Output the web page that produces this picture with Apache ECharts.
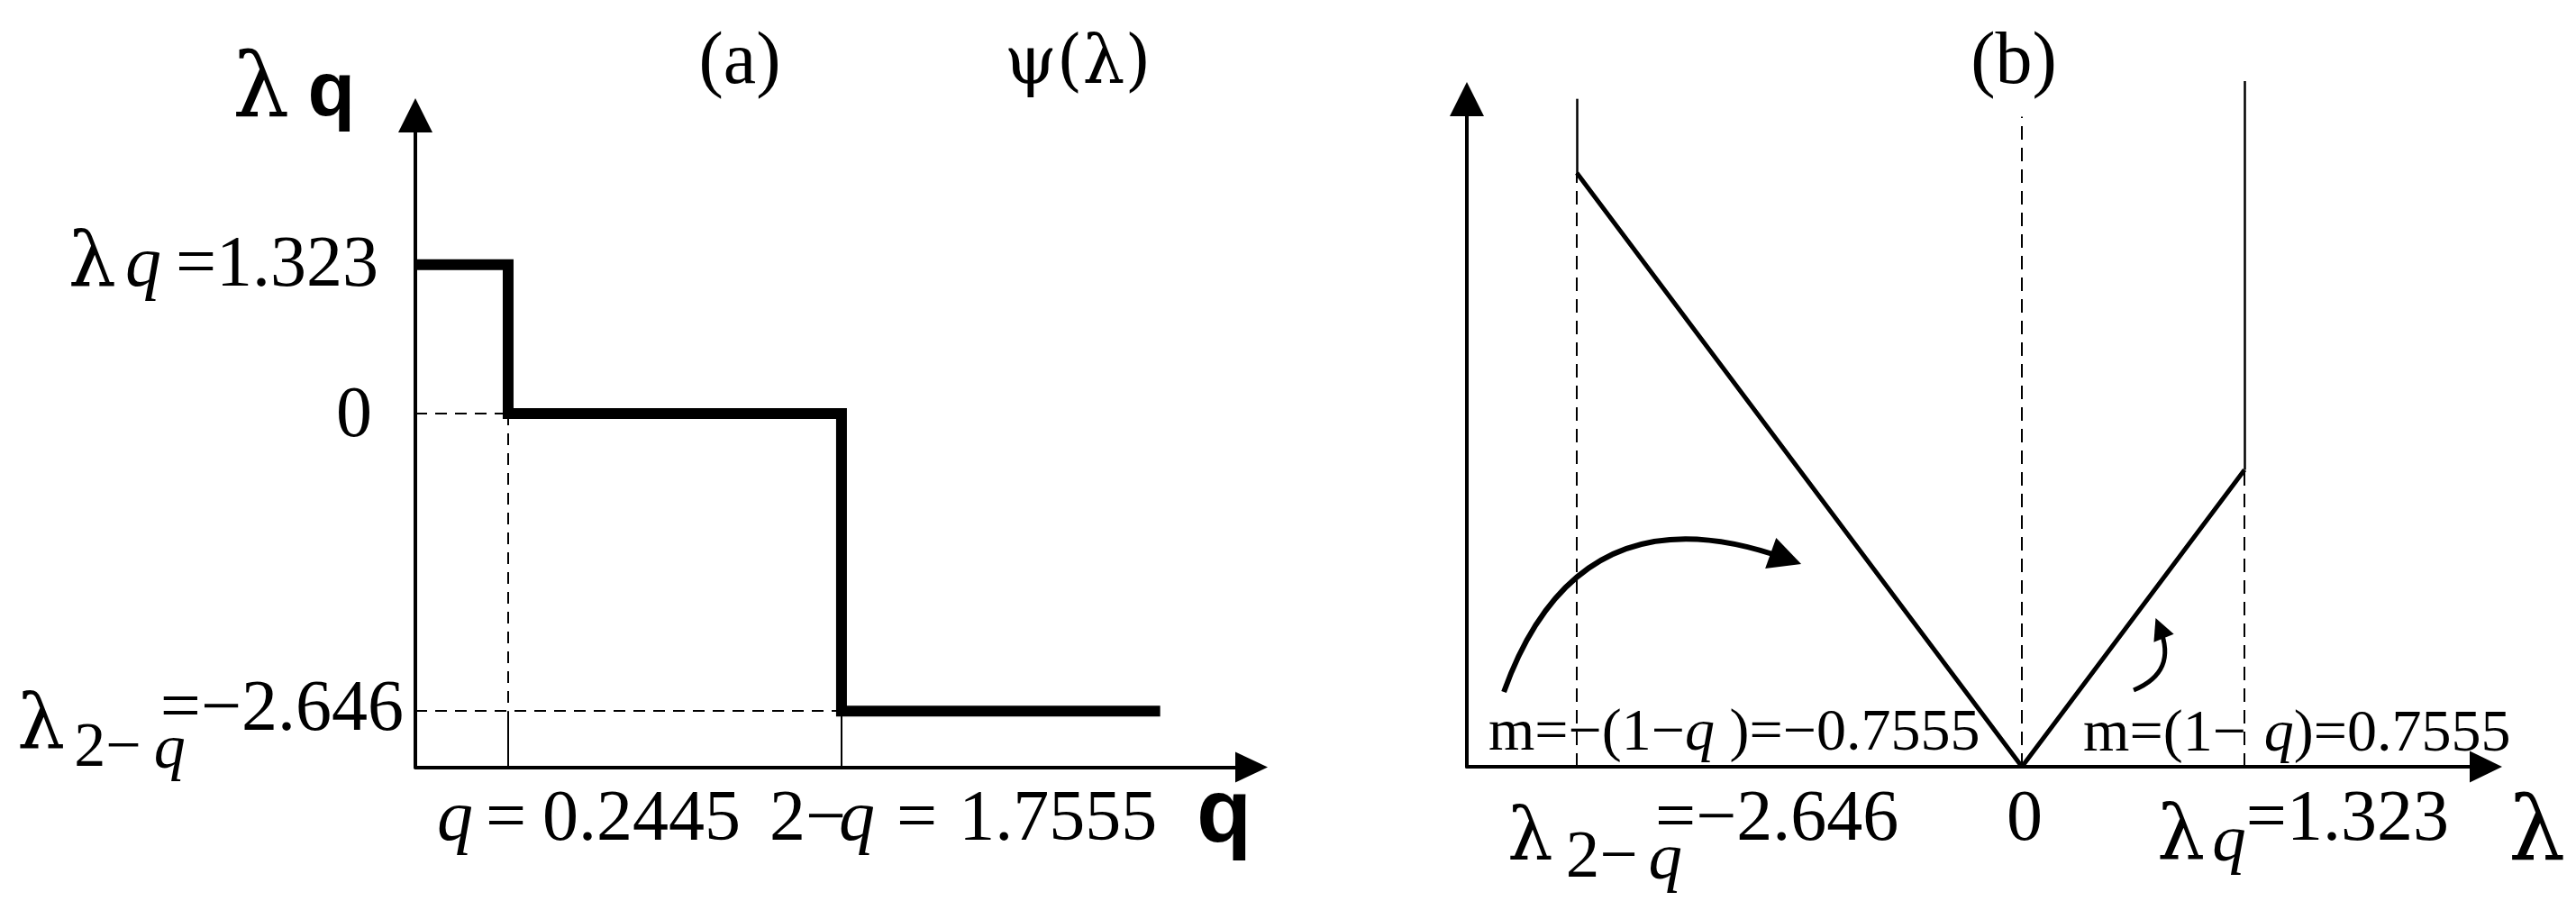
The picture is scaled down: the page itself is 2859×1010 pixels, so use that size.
<!DOCTYPE html>
<html>
<head>
<meta charset="utf-8">
<script src="https://cdn.jsdelivr.net/npm/echarts@6/dist/echarts.min.js"></script>
<style>
  html, body { margin: 0; padding: 0; background: #fff; }
  #chart { width: 2859px; height: 1010px; }
</style>
</head>
<body>
<div id="chart"></div>
<script>
// ---- panel (a): lambda as a step function of q ----
const qBreaks = [0.2445, 1.7555]
const lamLevels = [1.323, 0, -2.646]
const qEnd = 3.2
const qRange = [-0.176, 3.614]
const lamRangeA = [-3.145, 2.652]

// ---- panel (b): psi(lambda) ----
const lamPoints = [-2.646, 0, 1.323]
const psiPoints = [2.0, 0, 1.0]
const wallTops = [2.25, 2.31]
const zeroGuideTop = 2.19
const lamRangeB = [-3.30, 2.758]
const psiRangeB = [0, 2.249]
const slope = 0.7555

// curved arrows in panel (b), [start, end]
const arrowBig = [[-3.08, 0.252], [-1.403, 0.701]]
const arrowSmall = [[0.664, 0.258], [0.819, 0.467]]

const SERIF = '"Liberation Serif", "Times New Roman", serif'
const GREEK = '"DejaVu Serif", serif'
const SANS = '"Liberation Sans", Arial, sans-serif'
const fmt = v => String(v).replace('-', '\u2212')

const chart = echarts.init(document.getElementById('chart'))

function axis(gi, range, sym) {
  return {
    type: 'value', gridIndex: gi, min: range[0], max: range[1],
    axisLine: { show: true, onZero: false, symbol: ['none', 'triangle'], symbolSize: sym,
      lineStyle: { color: '#000', width: 4 } },
    axisTick: { show: false }, axisLabel: { show: false }, splitLine: { show: false }
  }
}

const yMinA = lamRangeA[0]
const stepData = [[qRange[0], lamLevels[0]], [qBreaks[0], lamLevels[1]], [qBreaks[1], lamLevels[2]], [qEnd, lamLevels[2]]]

chart.setOption({
  animation: false,
  backgroundColor: '#fff',
  grid: [
    { left: 461, top: 128, width: 928, height: 723.5, outerBoundsMode: 'none' },
    { left: 1628, top: 110, width: 1131, height: 741, outerBoundsMode: 'none' }
  ],
  xAxis: [axis(0, qRange, [34, 36]), axis(1, lamRangeB, [35, 36])],
  yAxis: [axis(0, lamRangeA, [38, 38]), axis(1, psiRangeB, [38, 38])],
  series: [
    {
      type: 'line', xAxisIndex: 0, yAxisIndex: 0, step: 'end', showSymbol: false, z: 5,
      lineStyle: { color: '#000', width: 12, join: 'miter', cap: 'butt' },
      data: stepData
    },
    {
      type: 'lines', coordinateSystem: 'cartesian2d', xAxisIndex: 0, yAxisIndex: 0, z: 3,
      lineStyle: { color: '#000', width: 2, type: [13, 9], opacity: 1 },
      data: [
        { coords: [[qRange[0], lamLevels[1]], [qBreaks[0], lamLevels[1]]] },
        { coords: [[qBreaks[0], lamLevels[1]], [qBreaks[0], lamLevels[2]]] },
        { coords: [[qRange[0], lamLevels[2]], [qBreaks[1], lamLevels[2]]] }
      ]
    },
    {
      type: 'lines', coordinateSystem: 'cartesian2d', xAxisIndex: 0, yAxisIndex: 0, z: 3,
      lineStyle: { color: '#000', width: 2, opacity: 1 },
      data: [
        { coords: [[qBreaks[0], lamLevels[2]], [qBreaks[0], yMinA]] },
        { coords: [[qBreaks[1], lamLevels[2]], [qBreaks[1], yMinA]] }
      ]
    },
    {
      type: 'line', xAxisIndex: 1, yAxisIndex: 1, showSymbol: false, z: 5,
      lineStyle: { color: '#000', width: 5 },
      data: lamPoints.map((l, i) => [l, psiPoints[i]])
    },
    {
      type: 'lines', coordinateSystem: 'cartesian2d', xAxisIndex: 1, yAxisIndex: 1, z: 3, clip: false,
      lineStyle: { color: '#000', width: 2.5, opacity: 1 },
      data: [
        { coords: [[lamPoints[0], psiPoints[0]], [lamPoints[0], wallTops[0]]] },
        { coords: [[lamPoints[2], psiPoints[2]], [lamPoints[2], wallTops[1]]] }
      ]
    },
    {
      type: 'lines', coordinateSystem: 'cartesian2d', xAxisIndex: 1, yAxisIndex: 1, z: 3,
      lineStyle: { color: '#000', width: 2, type: [15, 9], opacity: 1 },
      data: [
        { coords: [[lamPoints[0], 0], [lamPoints[0], psiPoints[0]]] },
        { coords: [[lamPoints[1], 0], [lamPoints[1], zeroGuideTop]] },
        { coords: [[lamPoints[2], 0], [lamPoints[2], psiPoints[2]]] }
      ]
    },
    {
      type: 'lines', coordinateSystem: 'cartesian2d', xAxisIndex: 1, yAxisIndex: 1, z: 6, clip: false,
      symbol: ['none', 'triangle'], symbolSize: 36,
      lineStyle: { color: '#000', width: 6, opacity: 1, curveness: 0.5 },
      data: [{ coords: arrowBig }]
    },
    {
      type: 'lines', coordinateSystem: 'cartesian2d', xAxisIndex: 1, yAxisIndex: 1, z: 6, clip: false,
      symbol: ['none', 'triangle'], symbolSize: 24,
      lineStyle: { color: '#000', width: 5, opacity: 1, curveness: -0.5 },
      data: [{ coords: arrowSmall }]
    }
  ]
})

// ---- text: laid out piece by piece so sub/superscripts sit like the figure ----
const mctx = document.createElement('canvas').getContext('2d')
function fontOf(p) {
  return (p.i ? 'italic ' : '') + (p.b ? 'bold ' : '') + p.s + 'px ' + (p.sans ? SANS : p.gr ? GREEK : SERIF)
}
function midOffset(font, t) {
  mctx.font = font
  mctx.textBaseline = 'alphabetic'
  const a1 = mctx.measureText(t).actualBoundingBoxAscent
  mctx.textBaseline = 'middle'
  const a2 = mctx.measureText(t).actualBoundingBoxAscent
  mctx.textBaseline = 'alphabetic'
  const d = a1 - a2
  return isFinite(d) ? d : 0.3 * parseFloat(font.match(/(\d+)px/)[1])
}
function textRun(pieces, x0, base, align) {
  let total = 0
  pieces.forEach(p => {
    if (p.t) { mctx.font = fontOf(p); p.w = mctx.measureText(p.t).width } else p.w = p.gap
    total += p.w
  })
  let x = align === 'right' ? x0 - total : align === 'center' ? x0 - total / 2 : x0
  const els = []
  pieces.forEach(p => {
    if (p.t) {
      const f = fontOf(p)
      els.push({
        type: 'text', x: x, y: base + (p.dy || 0) - midOffset(f, p.t), silent: true, z: 10,
        style: { text: p.t, font: f, fill: '#000', align: 'left', verticalAlign: 'middle',
          textAlign: 'left', textVerticalAlign: 'middle' }
      })
    }
    x += p.w
  })
  return els
}

const pa = v => chart.convertToPixel({ gridIndex: 0 }, v)
const pb = v => chart.convertToPixel({ gridIndex: 1 }, v)
const L = '\u03bb'
const M = '\u2212'

let g = []
// panel (a) tick labels on the lambda axis
let p = pa([qRange[0], lamLevels[0]])
g = g.concat(textRun([{ t: L, s: 84, gr: 1 }, { gap: 10 }, { t: 'q', s: 80, i: 1 }, { gap: 16 },
  { t: '=' + fmt(lamLevels[0]), s: 80 }], p[0] - 41, p[1] + 23, 'right'))
p = pa([qRange[0], lamLevels[1]])
g = g.concat(textRun([{ t: fmt(lamLevels[1]), s: 80 }], p[0] - 48, p[1] + 25, 'right'))
p = pa([qRange[0], lamLevels[2]])
g = g.concat(textRun([{ t: L, s: 84, gr: 1 }, { gap: 10 }, { t: '2' + M, s: 70, dy: 20 }, { gap: 14 },
  { t: 'q', s: 70, i: 1, dy: 22 }, { gap: -28 }, { t: '=' + fmt(lamLevels[2]), s: 80, dy: -20 }],
  p[0] - 13, p[1] + 41, 'right'))

// panel (a) tick labels on the q axis
p = pa([qBreaks[0], yMinA])
g = g.concat(textRun([{ t: 'q', s: 80, i: 1 }, { gap: 14 }, { t: '=', s: 80 }, { gap: 18 },
  { t: String(qBreaks[0]), s: 80 }], p[0] - 79, p[1] + 80.5, 'left'))
p = pa([qBreaks[1], yMinA])
g = g.concat(textRun([{ t: '2' + M, s: 80 }, { gap: -8 }, { t: 'q', s: 80, i: 1 }, { gap: 24 },
  { t: '=', s: 80 }, { gap: 24 }, { t: String(qBreaks[1]), s: 80 }], p[0] - 80, p[1] + 80.5, 'left'))

// panel (a) axis names and titles
g = g.concat(textRun([{ t: 'q', s: 100, b: 1, sans: 1 }], 1328, 934, 'left'))
g = g.concat(textRun([{ t: L, s: 100, gr: 1 }, { gap: 20 }, { t: 'q', s: 86, b: 1, sans: 1, dy: -2 }], 258, 130, 'left'))
g = g.concat(textRun([{ t: '(a)', s: 82 }], 821, 92, 'center'))
g = g.concat(textRun([{ t: '\u03c8(' + L + ')', s: 74, gr: 1 }], 1196, 92, 'center'))
g = g.concat(textRun([{ t: '(b)', s: 82 }], 2235, 92, 'center'))

// panel (b) slope labels
p = pb([lamRangeB[0], 0])
g = g.concat(textRun([{ t: 'm=' + M + '(1' + M, s: 66 }, { t: 'q', s: 66, i: 1 },
  { t: ' )=' + fmt(-slope), s: 66 }], p[0] + 24, p[1] - 19, 'left'))
p = pb([0, 0])
g = g.concat(textRun([{ t: 'm=(1' + M, s: 66 }, { gap: 20 }, { t: 'q', s: 66, i: 1 },
  { t: ')=' + fmt(slope), s: 66 }], p[0] + 68, p[1] - 18, 'left'))

// panel (b) tick labels on the lambda axis
p = pb([lamPoints[0], 0])
g = g.concat(textRun([{ t: L, s: 80, gr: 1, dy: 21 }, { gap: 14 }, { t: '2' + M, s: 75, dy: 41 }, { gap: 12 },
  { t: 'q', s: 75, i: 1, dy: 43 }, { gap: -30 }, { t: '=' + fmt(lamPoints[0]), s: 80 }],
  p[0] - 77, p[1] + 81, 'left'))
p = pb([lamPoints[1], 0])
g = g.concat(textRun([{ t: fmt(lamPoints[1]), s: 80 }], p[0] + 3, p[1] + 81, 'center'))
p = pb([lamPoints[2], 0])
g = g.concat(textRun([{ t: L, s: 84, gr: 1, dy: 21 }, { gap: 8 }, { t: 'q', s: 75, i: 1, dy: 23 },
  { t: '=' + fmt(lamPoints[2]), s: 80 }], p[0] - 97, p[1] + 81, 'left'))
g = g.concat(textRun([{ t: L, s: 100, gr: 1 }], 2784, 955, 'left'))

chart.setOption({ graphic: g })
</script>
</body>
</html>
